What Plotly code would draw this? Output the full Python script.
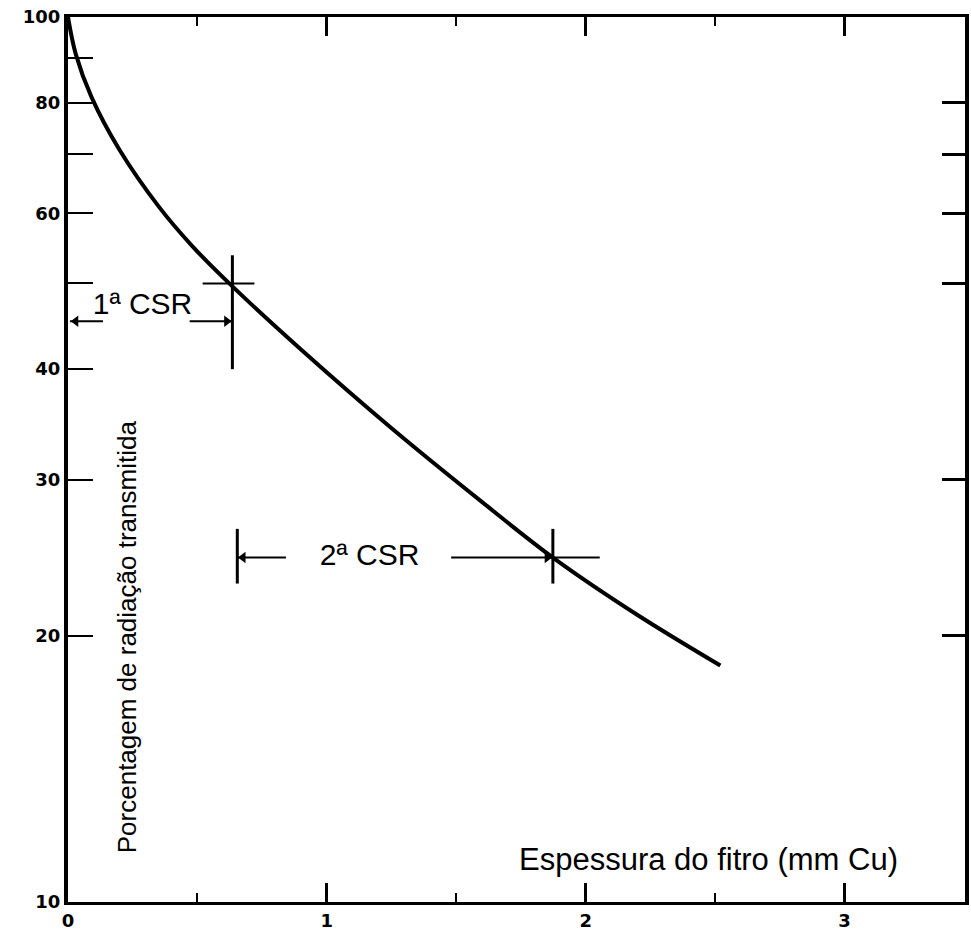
import numpy as np
import plotly.graph_objects as go

# ---- data ----
thickness_mm = [0.0, 0.03, 0.09, 0.2, 0.35, 0.48, 0.623, 0.9, 1.25, 1.6, 1.873, 2.2, 2.52]
transmitted_pct = [100, 90.8, 81.3, 70.7, 61.1, 55.1, 50, 42.1, 34.3, 28.3, 24.5, 21.1, 18.5]

x_tick_vals = [0, 1, 2, 3]
x_tick_text = ["0", "1", "2", "3"]
x_minor_vals = [0.5, 1.5, 2.5]
y_tick_vals = [10, 20, 30, 40, 50, 60, 70, 80, 90, 100]
y_tick_text = ["10", "20", "30", "40", "", "60", "", "80", "", "100"]
y_right_ticks = [20, 30, 50, 60, 70, 80]

# half-value layers (CSR) markers
csr_labels = ["1ª CSR", "2ª CSR"]
csr_label_x = [0.288, 1.165]
csr_label_y = [47.1, 24.5]
csr1_x = 0.635
csr1_vert = [40.0, 53.8]
csr1_horiz_x = [0.52, 0.72]
csr1_level = 50
csr1_arrow_y = 45.3
csr1_arrow_left = [0.135, 0.008]
csr1_arrow_right = [0.47, 0.635]
csr2_start = 0.654
csr2_end = 1.873
csr2_vert = [22.9, 26.4]
csr2_level = 24.5
csr2_arrow_left = [0.842, 0.654]
csr2_arrow_right = [1.48, 1.873]
csr2_extension = 2.054

fig = go.Figure()

# main curve
fig.add_trace(go.Scatter(
    x=thickness_mm, y=transmitted_pct, mode="lines",
    line=dict(color="black", width=4, shape="spline", smoothing=1.0),
    hoverinfo="skip"))

# thick vertical marks
vx, vy = [], []
for xv, (y0, y1) in [(csr1_x, csr1_vert), (csr2_start, csr2_vert), (csr2_end, csr2_vert)]:
    vx += [xv, xv, None]
    vy += [y0, y1, None]
fig.add_trace(go.Scatter(x=vx, y=vy, mode="lines",
                         line=dict(color="black", width=3), hoverinfo="skip"))

# thin horizontal lines (arrow shafts, crosshair)
hx, hy = [], []
for (x0, x1), yv in [(csr1_horiz_x, csr1_level),
                     (csr1_arrow_left, csr1_arrow_y),
                     (csr1_arrow_right, csr1_arrow_y),
                     (csr2_arrow_left, csr2_level),
                     ([csr2_arrow_right[0], csr2_extension], csr2_level)]:
    hx += [x0, x1, None]
    hy += [yv, yv, None]
fig.add_trace(go.Scatter(x=hx, y=hy, mode="lines",
                         line=dict(color="black", width=2), hoverinfo="skip"))

# arrow heads
head_off = 0.022
fig.add_trace(go.Scatter(
    x=[csr1_arrow_left[1] + head_off, csr2_arrow_left[1] + head_off],
    y=[csr1_arrow_y, csr2_level], mode="markers",
    marker=dict(symbol="triangle-left", size=10, color="black"), hoverinfo="skip"))
fig.add_trace(go.Scatter(
    x=[csr1_arrow_right[1] - head_off, csr2_arrow_right[1] - head_off],
    y=[csr1_arrow_y, csr2_level], mode="markers",
    marker=dict(symbol="triangle-right", size=10, color="black"), hoverinfo="skip"))

# CSR labels
fig.add_trace(go.Scatter(
    x=csr_label_x, y=csr_label_y, mode="text", text=csr_labels,
    textposition="middle center",
    textfont=dict(family="Liberation Sans, Arial, sans-serif", size=30, color="black"),
    hoverinfo="skip"))

# invisible trace for right axis
fig.add_trace(go.Scatter(x=[None], y=[None], yaxis="y2", mode="lines", hoverinfo="skip"))

tick_font = dict(family="DejaVu Sans, sans-serif", size=18, color="black", weight="bold")

fig.update_layout(
    width=971, height=933,
    margin=dict(l=68, r=2, t=17, b=21),
    paper_bgcolor="white", plot_bgcolor="white",
    showlegend=False,
    xaxis=dict(
        range=[0, 3.465], showline=True, linewidth=3, linecolor="black",
        mirror="ticks", ticks="inside", tickvals=x_tick_vals, ticktext=x_tick_text,
        ticklen=19, tickwidth=3, tickcolor="black", showgrid=False, zeroline=False,
        tickfont=tick_font,
        minor=dict(tickvals=x_minor_vals, ticks="inside", ticklen=9, tickwidth=2,
                   tickcolor="black", showgrid=False),
    ),
    yaxis=dict(
        type="log", range=[1, 2], showline=True, linewidth=4, linecolor="black",
        mirror=True, ticks="inside", tickvals=y_tick_vals, ticktext=y_tick_text,
        ticklen=25, tickwidth=2, tickcolor="black", showgrid=False, zeroline=False,
        tickfont=tick_font, ticklabelstandoff=0,
    ),
    yaxis2=dict(
        type="log", range=[1, 2], overlaying="y", side="right",
        ticks="inside", tickvals=y_right_ticks, ticklen=23, tickwidth=3,
        tickcolor="black", showticklabels=False, showgrid=False, showline=False,
        zeroline=False,
    ),
    annotations=[
        dict(text="Porcentagem de radiação transmitida", xref="paper", yref="paper",
             x=0.0655, y=0.30, xanchor="center", yanchor="middle",
             showarrow=False, textangle=-90,
             font=dict(family="Liberation Sans, Arial, sans-serif", size=26, color="black")),
        dict(text="Espessura do fitro (mm Cu)", xref="paper", yref="paper",
             x=0.714, y=0.048, xanchor="center", yanchor="middle", showarrow=False,
             font=dict(family="Liberation Sans, Arial, sans-serif", size=31, color="black")),
    ],
)

fig.write_html("out.html")
